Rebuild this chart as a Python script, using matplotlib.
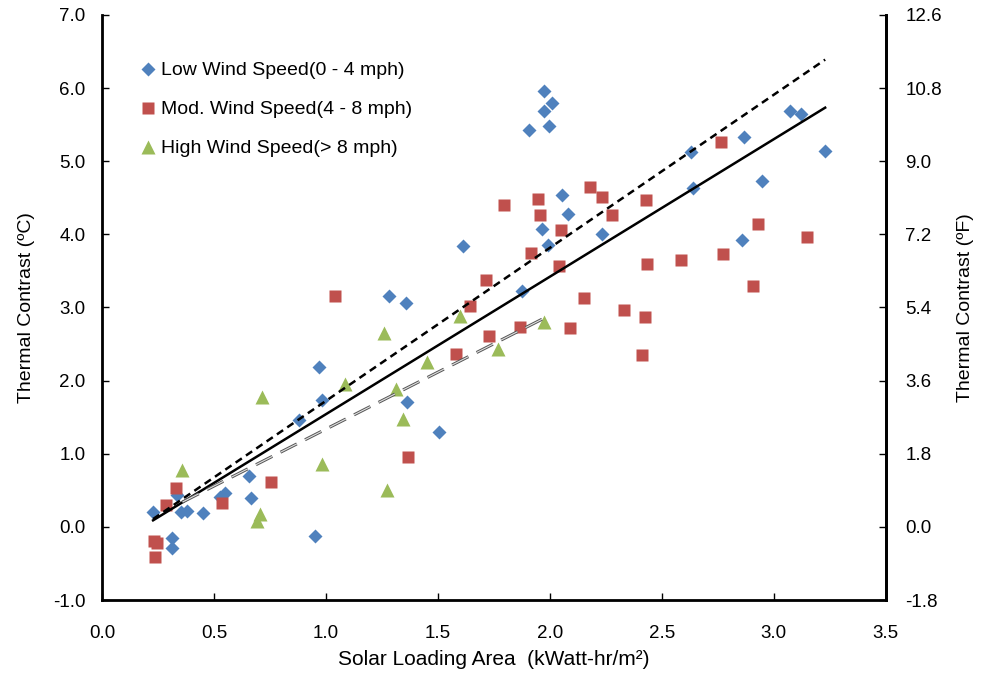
import numpy as np
import matplotlib
matplotlib.use("Agg")
import matplotlib.pyplot as plt
from matplotlib.ticker import FormatStrFormatter

plt.rcParams['font.family'] = ['Liberation Sans', 'DejaVu Sans']

# ---------- DATA ----------
low_x = [0.228, 0.336, 0.354, 0.380, 0.450, 0.312, 0.311, 0.525, 0.548, 0.655,
         0.665, 0.879, 0.969, 0.981, 0.951, 1.973, 2.009, 1.973, 1.905, 1.996,
         2.052, 2.079, 1.966, 1.991, 2.234, 1.612, 1.876, 1.280, 1.356, 1.364,
         1.506, 3.074, 3.121, 2.865, 2.629, 3.229, 2.637, 2.949, 2.858]
low_y = [0.21, 0.43, 0.21, 0.22, 0.19, -0.15, -0.29, 0.41, 0.46, 0.70,
         0.40, 1.46, 2.18, 1.74, -0.13, 5.96, 5.80, 5.68, 5.43, 5.48,
         4.54, 4.28, 4.07, 3.86, 4.00, 3.84, 3.22, 3.16, 3.06, 1.71,
         1.30, 5.69, 5.65, 5.33, 5.13, 5.14, 4.64, 4.73, 3.92]

mod_x = [0.232, 0.246, 0.238, 0.286, 0.332, 0.534, 0.754, 1.040, 2.179, 2.232,
         2.275, 1.945, 1.793, 1.957, 2.051, 1.915, 2.039, 1.714, 1.644, 2.150,
         1.866, 2.090, 1.726, 1.579, 1.367, 2.766, 2.429, 2.930, 3.147, 2.434,
         2.586, 2.772, 2.906, 2.333, 2.424, 2.411]
mod_y = [-0.19, -0.22, -0.41, 0.30, 0.53, 0.33, 0.61, 3.16, 4.65, 4.51,
         4.27, 4.48, 4.40, 4.26, 4.06, 3.74, 3.57, 3.38, 3.02, 3.13,
         2.73, 2.72, 2.61, 2.36, 0.955, 5.26, 4.47, 4.14, 3.96, 3.60,
         3.65, 3.73, 3.30, 2.97, 2.87, 2.35]

high_x = [0.359, 0.713, 0.705, 0.690, 0.984, 1.085, 1.257, 1.600, 1.975, 1.766,
          1.449, 1.313, 1.344, 1.272]
high_y = [0.78, 1.78, 0.18, 0.08, 0.865, 1.95, 2.65, 2.89, 2.80, 2.43,
          2.26, 1.88, 1.48, 0.51]

# linear trend lines (slope, intercept)
fit_all = (1.88, -0.339)
fit_low = (2.093, -0.37)
fit_high = (1.557, -0.22)

BLUE, RED, GREEN = "#4F81BD", "#C0504D", "#9BBB59"

fig = plt.figure(figsize=(9.81, 6.77), dpi=100)
ax = fig.add_axes([0.104, 0.1137, 0.799, 0.8643])

ax.plot(low_x, low_y, "D", color=BLUE, ms=6.8, mec="none", label="Low Wind Speed(0 - 4 mph)", zorder=3)
ax.plot(mod_x, mod_y, "s", color=RED, ms=9, mec="none", label="Mod. Wind Speed(4 - 8 mph)", zorder=3)
ax.plot(high_x, high_y, "^", color=GREEN, ms=9.5, mec="none", label="High Wind Speed(> 8 mph)", zorder=3)

all_x = np.array(low_x + mod_x + high_x)
xs = np.array([all_x.min(), all_x.max()])
ax.plot(xs, fit_all[0] * xs + fit_all[1], color="black", lw=1.8, zorder=4)

xs = np.array([min(low_x), max(low_x)])
ax.plot(xs, fit_low[0] * xs + fit_low[1], color="black", lw=1.8, ls=(0, (3, 2)), zorder=4)

xs = np.array([min(high_x), max(high_x)])
ax.plot(xs, fit_high[0] * xs + fit_high[1], color="#555555", lw=2.2, ls=(0, (6, 3)), zorder=4)
ax.plot(xs, fit_high[0] * xs + fit_high[1], color="#e0e0e0", lw=0.8, ls=(0, (16.5, 8.25)), zorder=4)

ax.set_xlim(0, 3.5)
ax.set_ylim(-1.0, 7.0)
ax.set_xticks(np.arange(0, 3.51, 0.5))
ax.set_yticks(np.arange(-1, 7.01, 1))
ax.xaxis.set_major_formatter(FormatStrFormatter("%.1f"))
ax.yaxis.set_major_formatter(FormatStrFormatter("%.1f"))
ax.tick_params(direction="in", length=5, width=1, labelsize=13.5, pad=12)
ax.tick_params(axis="x", pad=18)
ax.spines["top"].set_visible(False)
for s in ["left", "right", "bottom"]:
    ax.spines[s].set_linewidth(2)

ax.set_xlabel("Solar Loading Area  (kWatt-hr/m²)", fontsize=15, labelpad=6)
ax.set_ylabel("Thermal Contrast (ºC)", fontsize=14, labelpad=13)

ax2 = ax.twinx()
ax2.set_ylim(-1.8, 12.6)
ax2.set_yticks(np.arange(-1.8, 12.61, 1.8))
ax2.yaxis.set_major_formatter(FormatStrFormatter("%.1f"))
ax2.tick_params(direction="in", length=5, width=1, labelsize=13.5, pad=14)
ax2.spines["top"].set_visible(False)
ax2.spines["right"].set_linewidth(2)
ax2.set_ylabel("Thermal Contrast (ºF)", fontsize=14, labelpad=11)

ax.legend(loc="upper left", bbox_to_anchor=(0.04, 0.933), frameon=False, fontsize=14,
          handlelength=0.7, handletextpad=0.3, labelspacing=1.1, numpoints=1,
          borderaxespad=0)

plt.savefig("out.png", dpi=100)
